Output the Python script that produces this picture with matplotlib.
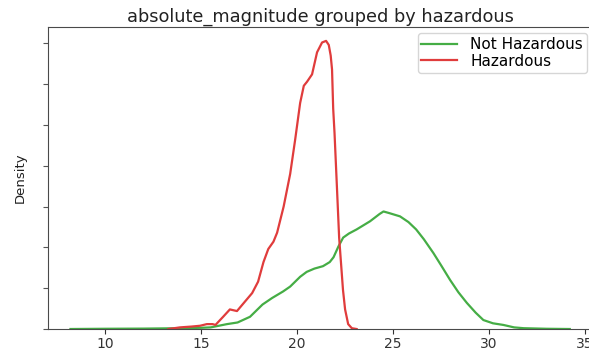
import matplotlib
matplotlib.use("Agg")
import matplotlib.pyplot as plt

# density curves of absolute_magnitude, one per hazardous group
not_haz_x = [8.2, 10.0, 12.0, 14.0, 15.0, 15.5, 16.35, 16.9, 17.55, 18.2, 18.7,
             19.27, 19.64, 20.16, 20.5, 20.9, 21.35, 21.7, 21.9, 22.15, 22.4,
             22.7, 23.1, 23.8, 24.3, 24.5, 24.8, 25.36, 25.8, 26.2, 26.6, 27.1,
             27.5, 27.97, 28.4, 28.84, 29.3, 29.7, 30.2, 30.74, 31.3, 31.8,
             33.0, 34.2]
not_haz_y = [0.0, 0.0003, 0.0005, 0.001, 0.0015, 0.002, 0.006, 0.008, 0.015,
             0.030, 0.038, 0.046, 0.052, 0.064, 0.070, 0.074, 0.077, 0.082,
             0.088, 0.101, 0.112, 0.117, 0.122, 0.132, 0.141, 0.144, 0.142,
             0.138, 0.131, 0.122, 0.110, 0.093, 0.078, 0.060, 0.045, 0.032,
             0.020, 0.011, 0.007, 0.005, 0.002, 0.001, 0.0003, 0.0]

haz_x = [13.3, 13.9, 14.5, 14.95, 15.3, 15.6, 15.75, 16.15, 16.5, 16.87, 17.3,
         17.66, 17.97, 18.25, 18.5, 18.77, 18.96, 19.3, 19.64, 19.9, 20.16,
         20.35, 20.52, 20.78, 21.04, 21.3, 21.51, 21.65, 21.75, 21.82, 21.88,
         21.95, 22.08, 22.19, 22.29, 22.39, 22.5, 22.66, 22.85, 23.1]
haz_y = [0.0, 0.002, 0.003, 0.004, 0.006, 0.006, 0.005, 0.015, 0.024, 0.022,
         0.034, 0.044, 0.058, 0.082, 0.098, 0.107, 0.118, 0.150, 0.190, 0.232,
         0.277, 0.298, 0.303, 0.312, 0.339, 0.351, 0.353, 0.348, 0.335, 0.318,
         0.270, 0.240, 0.171, 0.112, 0.080, 0.048, 0.024, 0.006, 0.001, 0.0]

groups = ["Not Hazardous", "Hazardous"]
colors = ["#45ad45", "#e03c3c"]

fig = plt.figure(figsize=(5.89, 3.52), dpi=100)
ax = fig.add_axes([0.0815, 0.0653, 0.925, 0.858])

ax.plot(not_haz_x, not_haz_y, color=colors[0], lw=1.6, label=groups[0])
ax.plot(haz_x, haz_y, color=colors[1], lw=1.6, label=groups[1])

ax.set_xlim(7.03, 35.4)
ax.set_ylim(0, 0.370)
ax.set_xticks([10, 15, 20, 25, 30, 35])
ax.set_yticks([0, 0.05, 0.10, 0.15, 0.20, 0.25, 0.30, 0.35])
ax.set_yticklabels([])
ax.tick_params(axis="x", labelsize=10, pad=2, colors="#333333")
ax.tick_params(axis="y", colors="#555555")
for s in ax.spines.values():
    s.set_color("#4a4a4a")

ax.set_ylabel("Density", fontsize=9.5, color="#222222", labelpad=8)
ax.set_title("absolute_magnitude grouped by hazardous", fontsize=12.8,
             color="#222222", pad=4)

ax.legend(loc="upper right", bbox_to_anchor=(0.9975, 0.995), fontsize=11,
          handlelength=2.3, handletextpad=0.9, labelspacing=0.12,
          borderpad=0.25, borderaxespad=0.3)

fig.savefig("out.png", dpi=100)
